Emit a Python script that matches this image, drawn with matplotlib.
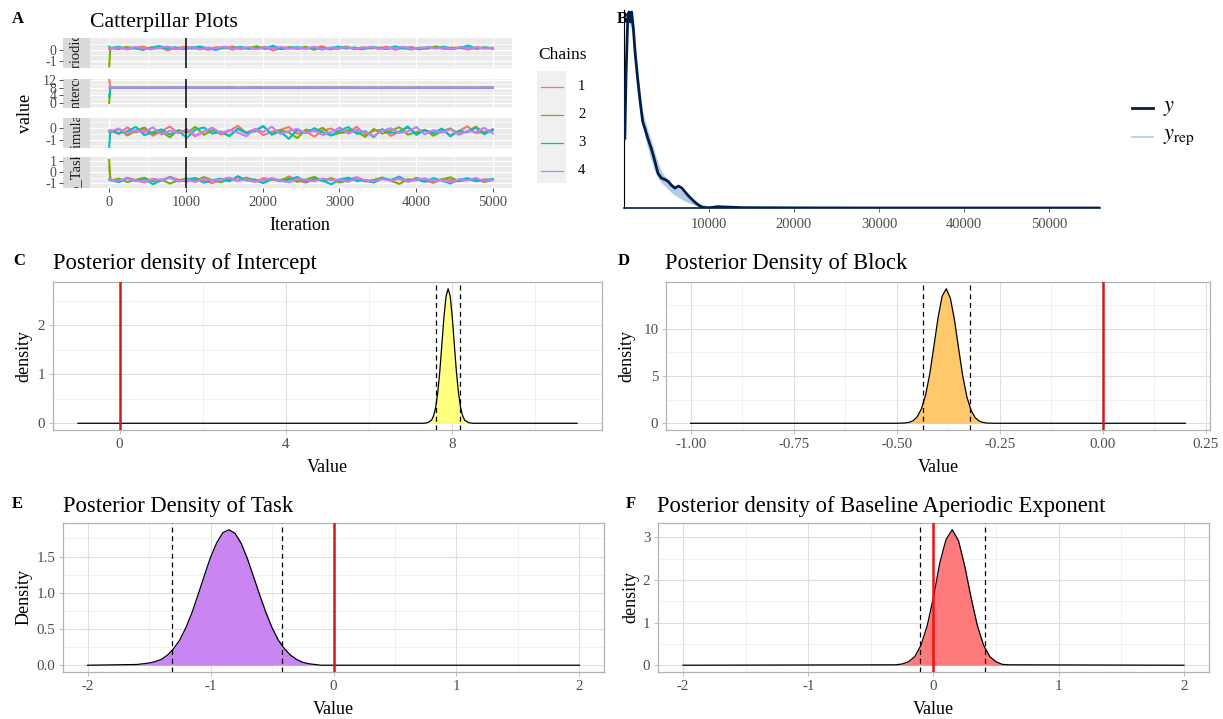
import numpy as np
import matplotlib.pyplot as plt

plt.rcParams['font.family'] = ['Liberation Serif', 'DejaVu Serif']
plt.rcParams['mathtext.fontset'] = 'stix'
plt.rcParams['axes.unicode_minus'] = False

W, H = 1223, 719

# ---- A: trace plots (4 parameters x 4 chains) ----
trace_names = ["b_aperiodic_exp", "b_Intercept", "b_Stimulation", "b_Task"]
trace_starts = [
    [0.10, -1.50, 0.30, 0.20],
    [12.0, 0.20, 3.50, 7.90],
    [-0.30, -0.25, -1.60, -0.30],
    [0.50, 1.10, -0.70, -0.65],
]
trace_vals = [
    [
        [0.12, 0.25, 0.05, 0.18, 0.31, 0.08, 0.22, -0.02, 0.15, 0.28, 0.10, 0.19, 0.02, 0.26, 0.14, 0.33, 0.07, 0.21, 0.11, 0.29, -0.05, 0.17, 0.24, 0.09, 0.20, 0.13, 0.35, 0.04, 0.18, 0.27, 0.12, 0.06, 0.23, 0.16, 0.30, 0.01, 0.19, 0.25, 0.10, 0.14, 0.32, 0.08, 0.22, 0.17, 0.03, 0.26, 0.15, 0.20],
        [0.20, 0.08, 0.27, 0.14, 0.01, 0.23, 0.16, 0.30, 0.09, 0.19, 0.26, 0.05, 0.17, 0.12, 0.28, 0.03, 0.22, 0.15, 0.34, 0.10, 0.18, 0.07, 0.25, 0.13, 0.29, 0.02, 0.21, 0.16, 0.11, 0.31, 0.06, 0.24, 0.14, 0.20, 0.09, 0.27, 0.17, 0.04, 0.22, 0.12, 0.30, 0.15, 0.08, 0.26, 0.19, 0.13, 0.23, 0.10],
        [0.16, 0.29, 0.11, 0.22, 0.04, 0.18, 0.36, 0.13, 0.25, 0.07, 0.20, 0.31, 0.15, 0.00, 0.24, 0.17, 0.28, 0.10, 0.21, 0.14, 0.38, 0.09, 0.19, 0.26, 0.12, 0.23, 0.05, 0.17, 0.30, 0.13, 0.22, 0.08, 0.27, 0.18, 0.11, 0.33, 0.14, 0.21, 0.06, 0.25, 0.16, 0.29, 0.12, 0.19, 0.40, 0.10, 0.23, 0.15],
        [0.14, 0.22, 0.09, 0.26, 0.17, 0.05, 0.20, 0.28, 0.12, 0.18, 0.24, 0.07, 0.21, 0.15, 0.30, 0.11, 0.19, 0.25, 0.08, 0.23, 0.16, 0.27, 0.10, 0.20, 0.13, 0.29, 0.06, 0.22, 0.17, 0.24, 0.12, 0.19, 0.26, 0.09, 0.21, 0.15, 0.28, 0.11, 0.18, 0.23, 0.14, 0.20, 0.08, 0.25, 0.16, 0.22, 0.13, 0.19],
    ],
    [
        [7.91, 7.85, 7.96, 7.88, 7.93, 7.80, 7.90, 7.99, 7.86, 7.92, 7.84, 7.95, 7.89, 7.87, 7.97, 7.83, 7.91, 7.94, 7.86, 7.90, 7.82, 7.96, 7.88, 7.92, 7.85, 7.98, 7.89, 7.84, 7.93, 7.87, 7.91, 7.81, 7.95, 7.88, 7.90, 7.86, 7.94, 7.89, 7.83, 7.92, 7.87, 7.96, 7.85, 7.90, 7.93, 7.88],
        [7.87, 7.94, 7.83, 7.91, 7.88, 7.97, 7.85, 7.90, 7.82, 7.93, 7.89, 7.86, 7.95, 7.80, 7.91, 7.88, 7.84, 7.96, 7.90, 7.87, 7.93, 7.85, 7.89, 7.98, 7.83, 7.92, 7.86, 7.90, 7.94, 7.81, 7.88, 7.95, 7.87, 7.91, 7.84, 7.93, 7.89, 7.86, 7.97, 7.85, 7.90, 7.88, 7.92, 7.83, 7.95, 7.89],
        [7.92, 7.86, 7.89, 7.95, 7.81, 7.90, 7.87, 7.93, 7.98, 7.84, 7.91, 7.88, 7.85, 7.94, 7.90, 7.79, 7.89, 7.92, 7.86, 7.96, 7.88, 7.83, 7.91, 7.87, 7.94, 7.90, 7.85, 7.99, 7.88, 7.92, 7.84, 7.90, 7.86, 7.95, 7.89, 7.82, 7.93, 7.88, 7.91, 7.86, 7.94, 7.87, 7.90, 7.84, 7.92, 7.89],
        [7.89, 7.93, 7.86, 7.91, 7.88, 7.95, 7.84, 7.90, 7.92, 7.87, 7.94, 7.85, 7.90, 7.88, 7.96, 7.83, 7.91, 7.89, 7.86, 7.93, 7.90, 7.87, 7.92, 7.85, 7.94, 7.88, 7.91, 7.84, 7.89, 7.95, 7.86, 7.90, 7.92, 7.87, 7.93, 7.85, 7.91, 7.88, 7.90, 7.86, 7.94, 7.89, 7.87, 7.92, 7.88, 7.90],
    ],
    [
        [-0.22, -0.51, 0.05, -0.38, -0.12, -0.64, -0.27, 0.12, -0.45, -0.18, -0.70, -0.31, -0.02, -0.55, -0.25, 0.18, -0.41, -0.09, -0.60, -0.33, -0.15, 0.08, -0.48, -0.28, -0.72, -0.20, -0.05, -0.43, -0.36, 0.10, -0.58, -0.24, -0.13, -0.66, -0.30, 0.02, -0.47, -0.19, -0.39, -0.08, -0.62, -0.26, 0.14, -0.44, -0.32, -0.11],
        [-0.35, -0.10, -0.62, -0.24, 0.03, -0.49, -0.30, -0.78, -0.16, -0.40, 0.09, -0.57, -0.21, -0.34, -0.68, -0.06, -0.45, -0.27, 0.15, -0.52, -0.19, -0.38, -0.85, -0.13, -0.29, 0.01, -0.61, -0.42, -0.17, -0.33, -0.74, -0.08, -0.48, -0.23, 0.06, -0.55, -0.36, -0.14, -0.65, -0.28, -0.04, -0.50, -0.31, 0.11, -0.43, -0.20],
        [-0.18, -0.44, -0.29, 0.09, -0.60, -0.35, -0.11, -0.53, -0.25, -0.82, -0.14, 0.04, -0.47, -0.32, -0.66, -0.07, -0.39, -0.23, 0.16, -0.56, -0.30, -0.90, -0.17, -0.43, -0.02, -0.37, -0.63, -0.21, 0.07, -0.49, -0.27, -0.76, -0.10, -0.41, -0.34, 0.13, -0.58, -0.19, -0.46, -0.05, -0.70, -0.24, -0.36, 0.02, -0.52, -0.15],
        [-0.28, -0.05, -0.47, -0.19, -0.36, 0.06, -0.54, -0.23, -0.41, -0.10, -0.63, -0.30, 0.02, -0.45, -0.17, -0.38, -0.69, -0.12, -0.33, 0.10, -0.50, -0.26, -0.07, -0.44, -0.21, -0.59, -0.34, 0.04, -0.48, -0.15, -0.37, -0.65, -0.22, -0.03, -0.42, -0.29, 0.08, -0.53, -0.18, -0.39, -0.11, -0.57, -0.25, -0.35, 0.01, -0.46],
    ],
    [
        [-0.66, -0.85, -0.52, -0.74, -0.95, -0.61, -0.79, -0.43, -0.70, -0.88, -0.58, -0.76, -1.02, -0.64, -0.81, -0.49, -0.72, -0.90, -0.56, -0.68, -0.83, -0.40, -0.75, -0.97, -0.62, -0.78, -0.54, -0.86, -0.69, -0.47, -0.80, -0.93, -0.59, -0.73, -0.65, -0.87, -0.51, -0.77, -0.99, -0.63, -0.71, -0.84, -0.55, -0.79, -0.67, -0.74],
        [-0.78, -0.60, -0.91, -0.70, -0.53, -0.84, -0.67, -1.05, -0.75, -0.58, -0.82, -0.46, -0.73, -0.94, -0.63, -0.80, -0.51, -0.77, -0.98, -0.66, -0.72, -0.55, -0.89, -0.69, -0.44, -0.81, -0.62, -0.96, -0.74, -0.57, -0.85, -0.71, -0.50, -0.79, -1.08, -0.65, -0.76, -0.59, -0.87, -0.68, -0.48, -0.83, -0.73, -0.61, -0.92, -0.70],
        [-0.71, -0.93, -0.57, -0.80, -0.64, -1.10, -0.75, -0.48, -0.86, -0.68, -0.55, -0.97, -0.73, -0.61, -0.84, -0.38, -0.77, -0.66, -1.00, -0.59, -0.82, -0.70, -0.45, -0.88, -0.63, -0.79, -1.12, -0.67, -0.52, -0.81, -0.74, -0.95, -0.58, -0.72, -0.42, -0.85, -0.65, -0.90, -0.56, -0.78, -1.04, -0.69, -0.60, -0.83, -0.76, -0.62],
        [-0.69, -0.80, -0.58, -0.75, -0.88, -0.63, -0.72, -0.54, -0.83, -0.67, -0.91, -0.60, -0.77, -0.70, -0.50, -0.81, -0.65, -0.86, -0.73, -0.56, -0.79, -0.94, -0.62, -0.71, -0.84, -0.59, -0.76, -0.68, -0.89, -0.53, -0.74, -0.82, -0.64, -0.78, -0.57, -0.87, -0.70, -0.61, -0.80, -0.73, -0.92, -0.66, -0.75, -0.55, -0.84, -0.71],
    ],
]
trace_ylims = [(-1.64, 1.09), (-2.3, 12.3), (-1.67, 0.83), (-1.45, 1.36)]
trace_yticks = [[-1, 0], [0, 4, 8, 12], [-1, 0], [-1, 0, 1]]
chain_labels = ["1", "2", "3", "4"]
chain_colors = ['#F8766D', '#7CAE00', '#00BFC4', '#C77CFF']
warmup_end = 1000

# ---- B: posterior predictive density overlay ----
ppc_x = [100, 250, 450, 600, 750, 900, 1100, 1300, 1600, 1900, 2200, 2500, 2800, 3200, 3600, 4000, 4400, 4800, 5200, 5600, 6000, 6400, 6800, 7200, 7600, 8000, 8400, 8800, 9200, 9600, 10000, 11000, 12000, 14000, 20000, 30000, 40000, 50000, 56000]
ppc_y = [1.05, 2.05, 2.90, 2.95, 2.80, 2.95, 2.70, 2.35, 1.95, 1.60, 1.30, 1.18, 1.05, 0.90, 0.72, 0.52, 0.45, 0.43, 0.40, 0.34, 0.30, 0.33, 0.30, 0.24, 0.18, 0.13, 0.08, 0.04, 0.01, 0.005, 0.003, 0.02, 0.015, 0.005, 0.002, 0.0, 0.0, 0.0, 0.0]
ppc_rep_lo = [0.90, 1.90, 2.75, 2.80, 2.70, 2.75, 2.55, 2.25, 1.85, 1.55, 1.25, 1.05, 0.90, 0.72, 0.56, 0.45, 0.38, 0.33, 0.28, 0.23, 0.19, 0.16, 0.13, 0.10, 0.08, 0.06, 0.04, 0.03, 0.02, 0.015, 0.01, 0.005, 0.003, 0.0, 0.0, 0.0, 0.0, 0.0, 0.0]
ppc_rep_hi = [1.15, 2.15, 2.95, 2.98, 2.95, 2.98, 2.80, 2.50, 2.10, 1.75, 1.45, 1.30, 1.18, 1.02, 0.85, 0.68, 0.56, 0.48, 0.42, 0.37, 0.33, 0.30, 0.26, 0.22, 0.18, 0.14, 0.11, 0.08, 0.06, 0.045, 0.035, 0.025, 0.015, 0.006, 0.001, 0.0, 0.0, 0.0, 0.0]
ppc_xticks = [10000, 20000, 30000, 40000, 50000]

# ---- C-F: posterior densities ----
int_x = [-1.0, 7.30, 7.40, 7.50, 7.55, 7.60, 7.65, 7.70, 7.75, 7.80, 7.85, 7.90, 7.95, 8.00, 8.05, 8.10, 8.15, 8.20, 8.25, 8.30, 8.40, 8.50, 11.0]
int_d = [0.0, 0.00, 0.01, 0.06, 0.15, 0.32, 0.62, 1.06, 1.61, 2.17, 2.59, 2.75, 2.60, 2.17, 1.60, 1.05, 0.62, 0.32, 0.15, 0.06, 0.01, 0.00, 0.0]
int_ci = [7.62, 8.18]

blk_x = [-1.0, -0.50, -0.48, -0.47, -0.46, -0.45, -0.44, -0.43, -0.42, -0.41, -0.40, -0.39, -0.38, -0.37, -0.36, -0.35, -0.34, -0.33, -0.32, -0.31, -0.30, -0.29, -0.28, -0.26, 0.2]
blk_d = [0.0, 0.0, 0.03, 0.10, 0.28, 0.70, 1.55, 3.00, 5.20, 8.10, 11.1, 13.4, 14.2, 13.2, 10.9, 7.9, 5.0, 2.8, 1.40, 0.60, 0.23, 0.08, 0.02, 0.0, 0.0]
blk_ci = [-0.437, -0.322]

task_x = [-2.0, -1.60, -1.55, -1.50, -1.45, -1.40, -1.35, -1.30, -1.25, -1.20, -1.15, -1.10, -1.05, -1.00, -0.95, -0.90, -0.85, -0.80, -0.75, -0.70, -0.65, -0.60, -0.55, -0.50, -0.45, -0.40, -0.35, -0.30, -0.25, -0.20, -0.15, -0.10, 2.0]
task_d = [0.0, 0.01, 0.02, 0.03, 0.05, 0.08, 0.14, 0.23, 0.35, 0.52, 0.73, 0.98, 1.24, 1.49, 1.69, 1.83, 1.87, 1.82, 1.68, 1.47, 1.22, 0.97, 0.73, 0.52, 0.35, 0.23, 0.14, 0.08, 0.04, 0.02, 0.01, 0.00, 0.0]
task_ci = [-1.31, -0.42]

ape_x = [-2.0, -0.30, -0.25, -0.20, -0.15, -0.10, -0.05, 0.00, 0.05, 0.10, 0.15, 0.20, 0.25, 0.30, 0.35, 0.40, 0.45, 0.50, 0.55, 0.60, 2.0]
ape_d = [0.0, 0.01, 0.03, 0.08, 0.20, 0.47, 0.93, 1.60, 2.40, 2.95, 3.18, 2.92, 2.32, 1.59, 0.93, 0.47, 0.20, 0.08, 0.02, 0.01, 0.0]
ape_ci = [-0.11, 0.41]


def box(l, t, r, b):
    """Pixel edges (from top-left) -> figure-fraction rect."""
    return [l / W, 1 - b / H, (r - l) / W, (b - t) / H]


def ftext(x, y, s, **kw):
    return fig.text(x / W, 1 - y / H, s, **kw)


def minor_of(major):
    step = major[1] - major[0]
    return np.arange(major[0] - step / 2, major[-1] + step, step)


fig = plt.figure(figsize=(W / 100, H / 100), dpi=100)
fig.patch.set_facecolor('white')

TICK_C = '#4D4D4D'

# ---------------- panel A ----------------
rows = [(38, 68), (79, 108), (118, 148), (157, 188)]
for i, (t, b) in enumerate(rows):
    ax = fig.add_axes(box(90, t, 512, b))
    sax = fig.add_axes(box(63, t, 90, b), sharey=ax)
    ax.set_facecolor('#EBEBEB')
    for k in range(4):
        vals = trace_vals[i][k]
        it = np.concatenate([[0], np.linspace(15, 5000, len(vals))])
        ys = np.concatenate([[trace_starts[i][k]], vals])
        ax.plot(it, ys, color=chain_colors[k], lw=1.5, zorder=2)
    ax.axvline(warmup_end, color='black', lw=1.1, zorder=3)
    ax.set_xlim(-250, 5250)
    ax.set_ylim(*trace_ylims[i])
    ax.set_xticks(range(0, 5001, 1000))
    ax.set_xticks(range(500, 5001, 1000), minor=True)
    ax.set_yticks(trace_yticks[i])
    ax.set_yticks(minor_of(trace_yticks[i]), minor=True)
    ax.grid(which='major', color='white', lw=1.0)
    ax.grid(which='minor', color='white', lw=0.5)
    ax.set_axisbelow(True)
    for s in ax.spines.values():
        s.set_visible(False)
    ax.tick_params(which='both', left=False, labelleft=False)
    ax.tick_params(which='minor', bottom=False)
    last = i == len(rows) - 1
    ax.tick_params(which='major', bottom=last, labelbottom=last, length=3,
                   width=0.6, color='#333333', labelcolor=TICK_C,
                   labelsize=10.5, pad=3)

    sax.set_facecolor('#D9D9D9')
    for s in sax.spines.values():
        s.set_visible(False)
    sax.set_xticks([])
    sax.tick_params(which='minor', left=False)
    sax.tick_params(which='major', length=3, width=0.6, color='#333333',
                    labelcolor=TICK_C, labelsize=10, pad=1.5)
    sax.set_yticklabels([str(v) for v in trace_yticks[i]])
    sax.set_ylim(*trace_ylims[i])
    sax.text(0.5, 0.5, trace_names[i], transform=sax.transAxes, rotation=90,
             ha='center', va='center', fontsize=10.5, color='#1A1A1A',
             clip_on=True)

ftext(12, 23, 'A', fontsize=12, fontweight='bold', va='baseline')
ftext(90, 27, 'Catterpillar Plots', fontsize=15.7, va='baseline')
ftext(25, 113, 'value', fontsize=13, rotation=90, ha='center', va='center')
ftext(300, 226, 'Iteration', fontsize=13, ha='center', va='center')

# chain legend
ftext(538, 55, 'Chains', fontsize=12.5, va='center')
kax = fig.add_axes(box(537, 71, 566, 183))
kax.set_xlim(537, 566)
kax.set_ylim(183, 71)
kax.axis('off')
kax.add_patch(plt.Rectangle((537, 71), 29, 112, color='#F0F0F0', zorder=0))
for yk, lab, col in zip([87, 115, 143, 171], chain_labels, chain_colors):
    kax.plot([541, 563], [yk, yk], color=col, lw=0.9)
    ftext(578, yk, lab, fontsize=10.5, va='center')

# ---------------- panel B ----------------
ftext(617, 23, 'B', fontsize=12, fontweight='bold', va='baseline', zorder=-1)
bx = fig.add_axes(box(624, 10, 1100, 208))
bx.set_facecolor('none')
bx.fill_between(ppc_x, ppc_rep_lo, ppc_rep_hi, color='#B3CDE0', lw=0, zorder=2)
bx.plot(ppc_x, ppc_y, color='#011F4B', lw=2.0, zorder=3, solid_joinstyle='round')
bx.set_xlim(0, 56000)
bx.set_ylim(0, 2.98)
bx.set_yticks([])
bx.set_xticks(ppc_xticks)
bx.set_xticklabels([str(v) for v in ppc_xticks])
bx.spines['top'].set_visible(False)
bx.spines['right'].set_visible(False)
bx.spines['left'].set_linewidth(0.8)
bx.spines['bottom'].set_linewidth(1.2)
bx.spines['bottom'].set_color('#011F4B')
bx.tick_params(axis='x', length=3, width=0.6, color='#555555',
               labelcolor=TICK_C, labelsize=10.5, pad=4)

# legend for y / y_rep
bleg = fig.add_axes(box(1128, 95, 1160, 150))
bleg.set_xlim(1128, 1160)
bleg.set_ylim(150, 95)
bleg.axis('off')
bleg.plot([1132, 1153], [108, 108], color='#011F4B', lw=2.0)
bleg.plot([1132, 1153], [137, 137], color='#B3CDE0', lw=1.2)
ftext(1163, 108, r'$y$', fontsize=16, va='center')
ftext(1163, 137, r'$y_{\mathrm{rep}}$', fontsize=16, va='center')


# ---------------- panels C-F ----------------
def posterior_panel(edges, xs, dens, fill, ci, ref_color,
                    xticks, xlabels, yticks, ylabels):
    ax = fig.add_axes(box(*edges))
    xs = np.asarray(xs, dtype=float)
    dens = np.asarray(dens, dtype=float)
    span = xs.max() - xs.min()
    top = dens.max()
    ax.fill_between(xs, 0, dens, color=fill, lw=0, zorder=2)
    ax.plot(xs, dens, color='black', lw=0.9, zorder=3)
    for v in ci:
        ax.axvline(v, color='black', lw=0.9, ls=(0, (4, 3)), zorder=4)
    ax.axvline(0, color=ref_color, lw=1.8, zorder=5)
    ax.set_xticks(xticks)
    ax.set_xticklabels(xlabels)
    ax.set_xticks(minor_of(xticks), minor=True)
    ax.set_yticks(yticks)
    ax.set_yticklabels(ylabels)
    ax.set_yticks(minor_of(yticks), minor=True)
    ax.set_xlim(xs.min() - 0.05 * span, xs.max() + 0.05 * span)
    ax.set_ylim(-0.05 * top, 1.05 * top)
    ax.grid(which='major', color='#DEDEDE', lw=0.8)
    ax.grid(which='minor', color='#EDEDED', lw=0.55)
    ax.set_axisbelow(True)
    ax.tick_params(which='minor', length=0)
    ax.tick_params(which='major', length=3, width=0.6, color='#B3B3B3',
                   labelcolor=TICK_C, labelsize=10.8, pad=2.5)
    for s in ax.spines.values():
        s.set_color('#B3B3B3')
        s.set_linewidth(0.9)
    return ax


posterior_panel((53, 282, 602, 430), int_x, int_d, '#FFFF80', int_ci, '#CC1B1B',
                [0, 4, 8], ['0', '4', '8'], [0, 1, 2], ['0', '1', '2'])
posterior_panel((666, 282, 1210, 430), blk_x, blk_d, '#FFC96B', blk_ci, '#CC1B1B',
                [-1.0, -0.75, -0.5, -0.25, 0.0, 0.25],
                ['-1.00', '-0.75', '-0.50', '-0.25', '0.00', '0.25'],
                [0, 5, 10], ['0', '5', '10'])
posterior_panel((63, 523, 604, 672), task_x, task_d, '#C985F2', task_ci, '#CC1B1B',
                [-2, -1, 0, 1, 2], ['-2', '-1', '0', '1', '2'],
                [0, 0.5, 1.0, 1.5], ['0.0', '0.5', '1.0', '1.5'])
posterior_panel((658, 523, 1209, 672), ape_x, ape_d, '#FF7B7B', ape_ci, '#EE1111',
                [-2, -1, 0, 1, 2], ['-2', '-1', '0', '1', '2'],
                [0, 1, 2, 3], ['0', '1', '2', '3'])

panel_text = [
    ('C', 13, 265, 53, 269, 'Posterior density of Intercept', 24, 356, 'density', 327, 467),
    ('D', 618, 265, 665, 269, 'Posterior Density of Block', 627, 356, 'density', 938, 467),
    ('E', 12, 508, 63, 512, 'Posterior Density of Task', 24, 597, 'Density', 333, 710),
    ('F', 626, 508, 657, 512, 'Posterior density of Baseline Aperiodic Exponent', 631, 597, 'density', 933, 710),
]
for letter, lx, ly, tx, ty, title, yx, yy, ylab, vx, vy in panel_text:
    ftext(lx, ly, letter, fontsize=12, fontweight='bold', va='baseline')
    ftext(tx, ty, title, fontsize=16.3, va='baseline')
    ftext(yx, yy, ylab, fontsize=13, rotation=90, ha='center', va='center')
    ftext(vx, vy, 'Value', fontsize=13, ha='center', va='center')

fig.savefig('out.png', dpi=100)
